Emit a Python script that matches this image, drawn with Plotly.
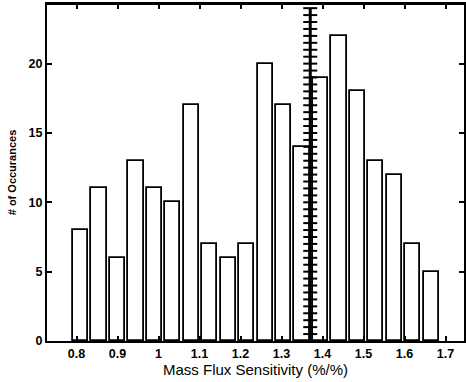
import plotly.graph_objects as go

# ---------------------------- Data -------------------------------------------
# histogram bin centres (Mass Flux Sensitivity, %/%)
bin_centers = [0.81, 0.855, 0.90, 0.945, 0.99, 1.035, 1.08, 1.125, 1.17, 1.215,
               1.26, 1.305, 1.35, 1.395, 1.44, 1.485, 1.53, 1.575, 1.62, 1.665]
# number of occurances per bin
counts = [8, 11, 6, 13, 11, 10, 17, 7, 6, 7,
          20, 17, 14, 19, 22, 18, 13, 12, 7, 5]

# vertical marker line (plotted as '+-' like the original)
line_x = 1.37
line_y = [0, 0.5, 1, 1.5, 2, 2.5, 3, 3.5, 4, 4.5, 5, 5.5, 6, 6.5, 7, 7.5,
          8, 8.5, 9, 9.5, 10, 10.5, 11, 11.5, 12, 12.5, 13, 13.5, 14, 14.5,
          15, 15.5, 16, 16.5, 17, 17.5, 18, 18.5, 19, 19.5, 20, 20.5, 21,
          21.5, 22, 22.5, 23, 23.5, 24]

x_ticks = [0.8, 0.9, 1.0, 1.1, 1.2, 1.3, 1.4, 1.5, 1.6, 1.7]
x_labels = ["0.8", "0.9", "1", "1.1", "1.2", "1.3", "1.4", "1.5", "1.6", "1.7"]
y_ticks = [0, 5, 10, 15, 20]

# ---------------------------- Figure -----------------------------------------
fig = go.Figure()

fig.add_trace(go.Bar(
    x=bin_centers,
    y=counts,
    width=0.037,
    marker=dict(color="white", line=dict(color="black", width=1.8)),
    showlegend=False,
))

fig.add_trace(go.Scatter(
    x=[line_x] * len(line_y),
    y=line_y,
    mode="lines+markers",
    line=dict(color="black", width=3),
    marker=dict(symbol="line-ew", size=10, line=dict(color="black", width=2)),
    showlegend=False,
))

font_ticks = dict(family="Liberation Sans, Arial", size=12.5, color="black")

fig.update_layout(
    width=466,
    height=382,
    margin=dict(l=47, r=0, t=4, b=41),
    plot_bgcolor="white",
    paper_bgcolor="white",
    bargap=0,
    font=dict(family="Liberation Sans, Arial", color="black"),
)

# top edge of the box
fig.add_shape(type="line", xref="paper", yref="paper",
              x0=0, x1=1, y0=1, y1=1,
              line=dict(color="black", width=2))

fig.update_xaxes(
    range=[0.728, 1.745],
    tickvals=x_ticks,
    ticktext=["<b>%s</b>" % t for t in x_labels],
    tickfont=font_ticks,
    ticks="inside",
    ticklen=5,
    tickwidth=1.5,
    tickcolor="black",
    showgrid=False,
    zeroline=False,
    showline=True,
    linecolor="black",
    linewidth=2,
    mirror="ticks",
    title=dict(text="Mass Flux Sensitivity (%/%)",
               font=dict(size=15, color="black"), standoff=3),
)

fig.update_yaxes(
    range=[0, 24.3],
    tickvals=y_ticks,
    ticktext=["<b>%d</b>" % t for t in y_ticks],
    tickfont=font_ticks,
    ticks="inside",
    ticklen=5,
    tickwidth=1.5,
    tickcolor="black",
    showgrid=False,
    zeroline=False,
    showline=True,
    linecolor="black",
    linewidth=2,
    mirror="ticks",
    title=dict(text="<b># of Occurances</b>",
               font=dict(size=11, color="black"), standoff=10),
)

# remove the default page margin so the figure sits at the window's corner
fig.write_html("out.html",
               config={"displayModeBar": False},
               post_script="document.body.style.margin='0px';"
                           "document.body.style.overflow='hidden';")
